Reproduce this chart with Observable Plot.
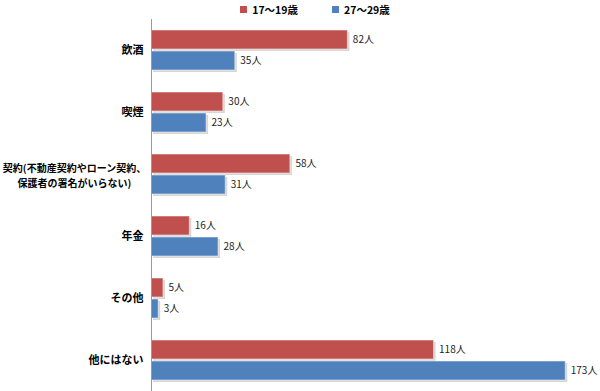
<!DOCTYPE html>
<html><head><meta charset="utf-8">
<script src="https://cdn.jsdelivr.net/npm/d3@7"></script>
<script src="https://cdn.jsdelivr.net/npm/@observablehq/plot@0.6"></script>
<style>
body{margin:0;background:#fff;font-family:"Noto Sans CJK JP",sans-serif;}
#legend{height:18px;display:flex;justify-content:center;align-items:center;gap:34px;font-size:10.5px;font-weight:bold;color:#000;padding-left:30px;}
#legend span.sw{display:inline-block;width:7px;height:7px;margin-right:5px;vertical-align:middle;position:relative;top:-1px;}
</style></head>
<body>
<div id="legend"></div>
<div id="chart"></div>
<script>
const categories = ["飲酒","喫煙","契約(不動産契約やローン契約、\n保護者の署名がいらない)","年金","その他","他にはない"];
const series = ["17～19歳","27～29歳"];
const teen = [82,30,58,16,5,118];
const twenties = [35,23,31,28,3,173];
const colors = ["#C0504D","#4F81BD"];

const data = [];
categories.forEach((c,i)=>{
  data.push({cat:c, s:series[0], v:teen[i]});
  data.push({cat:c, s:series[1], v:twenties[i]});
});
const longLabels = categories.filter(c => c.includes("\n"));

const leg = document.getElementById("legend");
series.forEach((s,i)=>{
  const d = document.createElement("div");
  d.innerHTML = `<span class="sw" style="background:${colors[i]}"></span>${s}`;
  leg.appendChild(d);
});

const chart = Plot.plot({
  width: 600,
  height: 373,
  marginLeft: 151,
  marginRight: 18,
  marginTop: 0,
  marginBottom: 0,
  style: {fontFamily: '"Noto Sans CJK JP", sans-serif', background: "#fff"},
  x: {domain: [0, 180], axis: null},
  y: {domain: series, axis: null, paddingInner: 0.08, paddingOuter: 0.45},
  fy: {domain: categories, padding: 0, label: null},
  color: {domain: series, range: colors},
  marks: [
    Plot.axisFy({anchor: "left", label: null, tickSize: 0, tickPadding: 8, fontSize: 11, fontWeight: "bold", fill: "#000",
      tickFormat: d => d.includes("\n") ? "" : d}),
    Plot.text(longLabels, {fy: d => d, text: d => d, frameAnchor: "left", dx: -77, textAnchor: "middle",
      fontSize: 10, fontWeight: "bold", fill: "#000", lineHeight: 1.5}),
    Plot.barX(data, {fy: "cat", y: "s", x: "v", fill: "#bbb", dx: 2, dy: 2, fillOpacity: 0.6}),
    Plot.barX(data, {fy: "cat", y: "s", x: "v", fill: "s", stroke: "#fff", strokeOpacity: 0.5, strokeWidth: 1}),
    Plot.ruleX([0], {stroke: "#999", strokeWidth: 1}),
    Plot.text(data, {fy: "cat", y: "s", x: "v", text: d => d.v + "人", textAnchor: "start", dx: 5, fontSize: 10, fill: "#222"})
  ]
});
document.getElementById("chart").appendChild(chart);
</script>
</body></html>
